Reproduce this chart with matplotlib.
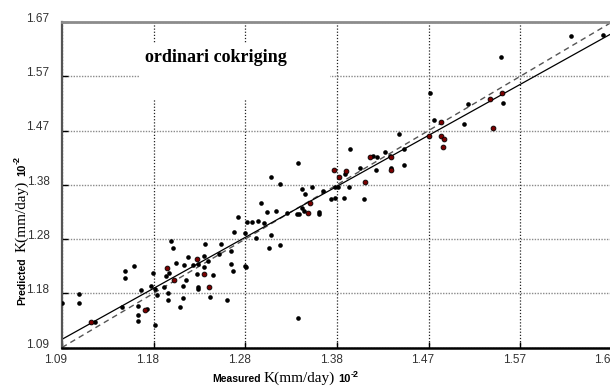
import numpy as np
import matplotlib.pyplot as plt
from matplotlib.patches import Rectangle
import matplotlib.transforms as mtransforms

# measured vs predicted hydraulic conductivity (x 10^-2 mm/day)
measured = [1.090, 1.108, 1.108, 1.125, 1.156, 1.156, 1.166, 1.153, 1.170, 1.170,
            1.170, 1.180, 1.173, 1.186, 1.184, 1.188, 1.190, 1.188, 1.205, 1.207,
            1.210, 1.203, 1.200, 1.198, 1.202, 1.202, 1.214, 1.218, 1.218, 1.219,
            1.223, 1.221, 1.228, 1.233, 1.232, 1.233, 1.233, 1.240, 1.241, 1.240,
            1.244, 1.246, 1.249, 1.256, 1.258, 1.264, 1.268, 1.268, 1.270, 1.271,
            1.283, 1.284, 1.283, 1.285, 1.290, 1.276, 1.295, 1.297, 1.300, 1.303,
            1.306, 1.310, 1.310, 1.308, 1.316, 1.320, 1.320, 1.327, 1.338, 1.340,
            1.339, 1.343, 1.346, 1.343, 1.345, 1.354, 1.361, 1.361, 1.365, 1.374,
            1.378, 1.378, 1.381, 1.387, 1.388, 1.393, 1.394, 1.404, 1.408, 1.418,
            1.422, 1.421, 1.431, 1.436, 1.437, 1.445, 1.451, 1.451, 1.478, 1.482,
            1.518, 1.514, 1.555, 1.553, 1.627, 1.661, 1.339]
predicted = [1.170, 1.185, 1.170, 1.135, 1.227, 1.213, 1.235, 1.163, 1.164, 1.148,
             1.138, 1.158, 1.192, 1.222, 1.199, 1.195, 1.183, 1.130, 1.280, 1.268,
             1.241, 1.223, 1.217, 1.198, 1.187, 1.175, 1.163, 1.200, 1.179, 1.237,
             1.252, 1.211, 1.237, 1.238, 1.221, 1.198, 1.194, 1.233, 1.274, 1.253,
             1.245, 1.180, 1.220, 1.256, 1.274, 1.175, 1.262, 1.238, 1.226, 1.296,
             1.236, 1.233, 1.294, 1.313, 1.313, 1.323, 1.286, 1.316, 1.348, 1.312,
             1.332, 1.393, 1.290, 1.268, 1.333, 1.382, 1.272, 1.330, 1.327, 1.327,
             1.418, 1.372, 1.363, 1.338, 1.333, 1.376, 1.332, 1.328, 1.369, 1.354,
             1.356, 1.376, 1.376, 1.357, 1.399, 1.376, 1.443, 1.409, 1.354, 1.431,
             1.430, 1.407, 1.439, 1.431, 1.410, 1.471, 1.443, 1.415, 1.544, 1.496,
             1.523, 1.488, 1.526, 1.608, 1.645, 1.646, 1.143]

# points drawn in dark red
measured_r = [1.121, 1.178, 1.201, 1.208, 1.232, 1.240, 1.245, 1.349, 1.352, 1.377,
              1.382, 1.390, 1.409, 1.415, 1.437, 1.437, 1.490, 1.477, 1.490, 1.493,
              1.492, 1.541, 1.545, 1.554]
predicted_r = [1.135, 1.157, 1.231, 1.210, 1.247, 1.221, 1.198, 1.329, 1.348, 1.407,
               1.394, 1.405, 1.385, 1.430, 1.429, 1.407, 1.491, 1.467, 1.467, 1.461,
               1.448, 1.532, 1.481, 1.544]

fit_slope = 0.94
fit_intercept = 0.080

lo, hi = 1.09, 1.67
ticks = np.linspace(lo, hi, 7)
tick_labels = ['1.09', '1.18', '1.28', '1.38', '1.47', '1.57', '1.67']

W, H = 610, 390
fig = plt.figure(figsize=(W / 100, H / 100), dpi=100)
ax = fig.add_axes([62 / W, 1 - 347.5 / H, 550 / W, 325.5 / H])

ax.set_xlim(lo, hi)
ax.set_ylim(lo, hi)
ax.set_xticks(ticks)
ax.set_yticks(ticks)
ax.set_xticklabels(tick_labels, family='Liberation Sans', fontsize=8.5, color='#333333')
ax.set_yticklabels(tick_labels, family='Liberation Sans', fontsize=8.5, color='#333333')
ax.tick_params(direction='in', length=4, width=1)
ax.tick_params(axis='y', pad=9)
ax.tick_params(axis='x', pad=5)
for lab in ax.get_yticklabels():
    lab.set_va('baseline')
shift = mtransforms.ScaledTranslation(-6 / 100, 0, fig.dpi_scale_trans)
for lab in ax.get_xticklabels():
    lab.set_transform(lab.get_transform() + shift)

ax.set_axisbelow(True)
ax.xaxis.grid(True, linestyle=(0, (1, 1.5)), color='#222222', linewidth=0.9)
ax.yaxis.grid(True, linestyle=(0, (1, 1)), color='#8a8a8a', linewidth=1.0)

ax.spines['right'].set_visible(False)
ax.spines['top'].set_color('#8c8c8c')
ax.spines['top'].set_linewidth(2)
ax.spines['left'].set_color('#555555')
ax.spines['left'].set_linewidth(1.6)
ax.spines['bottom'].set_color('black')
ax.spines['bottom'].set_linewidth(1.8)

# white patch behind the title
ax.add_patch(Rectangle((0.14, 0.76), 0.348, 0.175, transform=ax.transAxes,
                       facecolor='white', edgecolor='none', zorder=1))
ax.text(0.28, 0.892, 'ordinari cokriging', transform=ax.transAxes,
        ha='center', va='center', family='Liberation Serif', fontweight='bold',
        fontsize=13, zorder=5)

# 1:1 line and fitted line
ref = np.array([lo, hi])
ax.plot(ref, ref, color='#555555', linewidth=1, dashes=(4, 3), zorder=2)
ax.plot(ref, fit_slope * ref + fit_intercept, color='black', linewidth=0.9, zorder=2)

ax.scatter(measured, predicted, s=11, color='black', linewidths=0, zorder=3)
ax.scatter(measured_r, predicted_r, s=12, facecolor='#7a0000', edgecolor='black',
           linewidths=0.6, zorder=3)


def chain(pieces, x0, y0, vertical=False):
    # lay text pieces end to end (pixel coordinates, origin bottom-left)
    renderer = fig.canvas.get_renderer()
    pos = y0 if vertical else x0
    for text, props, gap, rise in pieces:
        if vertical:
            t = fig.text((x0 - rise) / W, pos / H, text, rotation=90,
                         rotation_mode='anchor', ha='left', va='baseline', **props)
            pos = t.get_window_extent(renderer).y1 + gap
        else:
            t = fig.text(pos / W, (y0 + rise) / H, text, ha='left', va='baseline', **props)
            pos = t.get_window_extent(renderer).x1 + gap


sans_b = dict(family='Liberation Sans', fontweight='bold', fontsize=7.5)
serif = dict(family='Liberation Serif', fontsize=11)
sup = dict(family='Liberation Sans', fontweight='bold', fontsize=6.5)

chain([('Measured', sans_b, 3, 0), ('K(mm/day)', serif, 3, 0),
       ('10', dict(sans_b, fontsize=8), 0, 0), ('-2', sup, 0, 5)], 212, 8)
chain([('Predicted', sans_b, 5, 0), ('K(mm/day)', serif, 5, 0),
       ('10', dict(sans_b, fontsize=8), 0, 0), ('-2', sup, 0, 5)], 25, 85, vertical=True)

fig.savefig('out.png', dpi=100)
